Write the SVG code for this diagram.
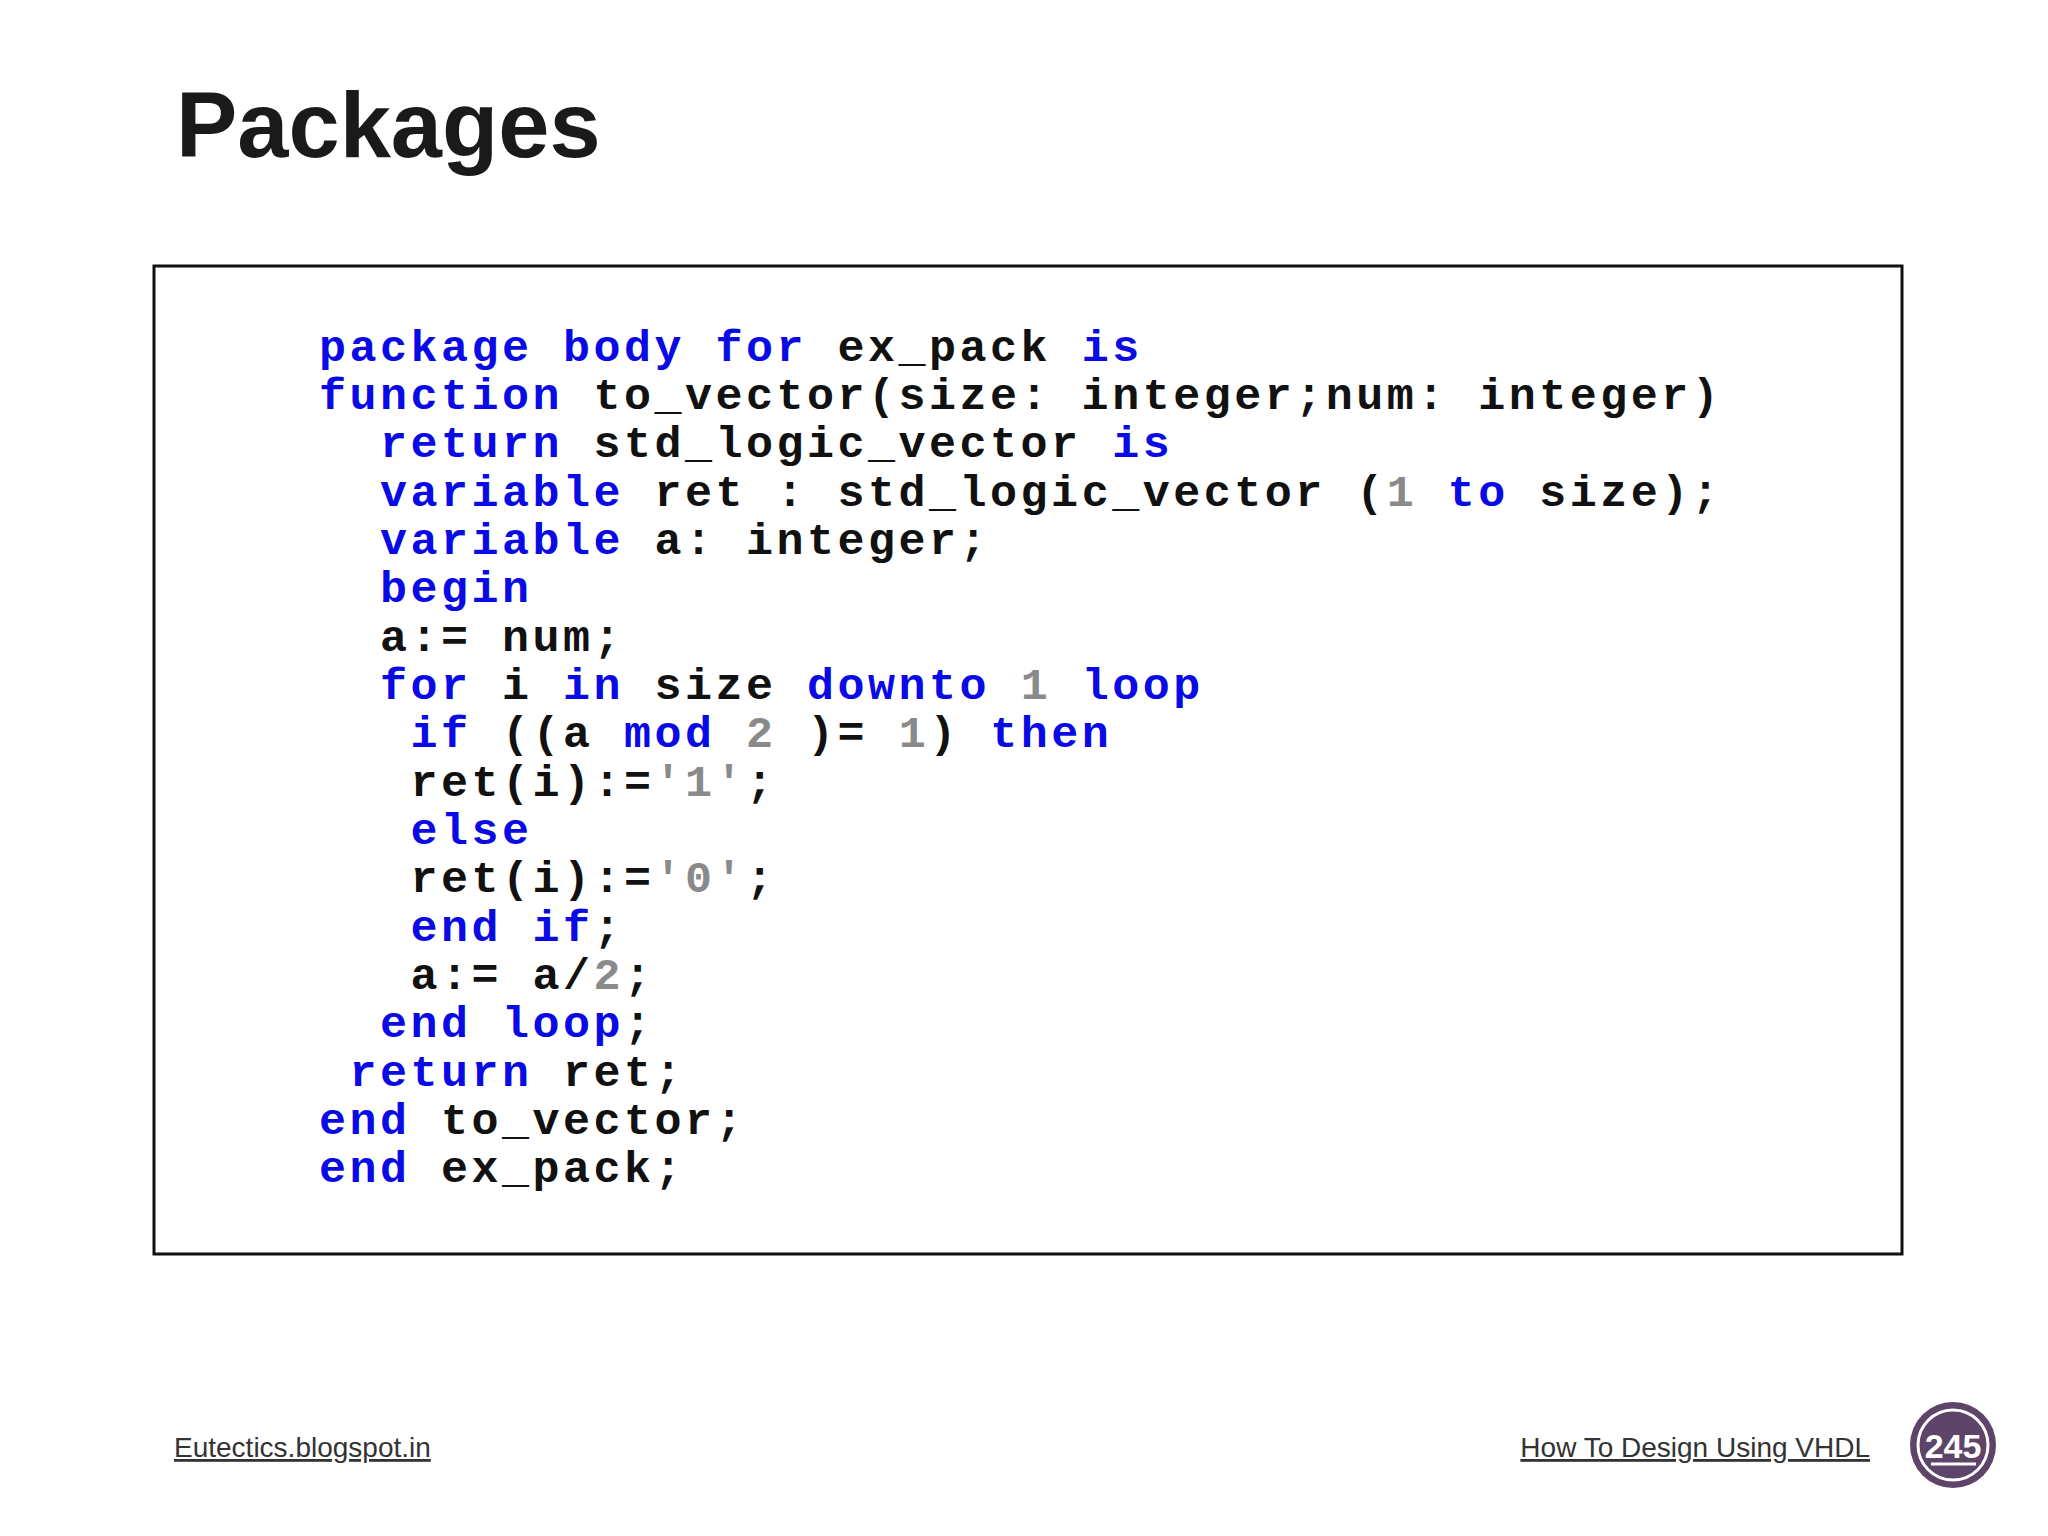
<svg xmlns="http://www.w3.org/2000/svg" width="2048" height="1536" viewBox="0 0 2048 1536">
<style>
.c{font-family:"Liberation Mono","DejaVu Sans Mono",monospace;font-weight:bold;font-size:45px;letter-spacing:3.5px;fill:#111;white-space:pre}
.k{fill:#0a0ae6}.n{fill:#8a8a8a}
.f{font-family:"Liberation Sans",Arial,sans-serif;font-size:28px;fill:#333;text-decoration:underline}
</style>
<rect width="2048" height="1536" fill="#fff"/>
<g id="title"><text x="176" y="157" font-family="Liberation Sans,Arial,sans-serif" font-weight="bold" font-size="92" fill="#1a1a1a">Packages</text></g>
<g id="codebox">
<rect x="154" y="266" width="1748" height="988" fill="#fff" stroke="#111" stroke-width="3"/>
<text class="c" x="319" y="361"><tspan class="k">package body for</tspan> ex_pack <tspan class="k">is</tspan></text>
<text class="c" x="319" y="409"><tspan class="k">function</tspan> to_vector(size: integer;num: integer)</text>
<text class="c" x="319" y="457">  <tspan class="k">return</tspan> std_logic_vector <tspan class="k">is</tspan></text>
<text class="c" x="319" y="506">  <tspan class="k">variable</tspan> ret : std_logic_vector (<tspan class="n">1</tspan> <tspan class="k">to</tspan> size);</text>
<text class="c" x="319" y="554">  <tspan class="k">variable</tspan> a: integer;</text>
<text class="c" x="319" y="602">  <tspan class="k">begin</tspan></text>
<text class="c" x="319" y="651">  a:= num;</text>
<text class="c" x="319" y="699">  <tspan class="k">for</tspan> i <tspan class="k">in</tspan> size <tspan class="k">downto</tspan> <tspan class="n">1</tspan> <tspan class="k">loop</tspan></text>
<text class="c" x="319" y="747">   <tspan class="k">if</tspan> ((a <tspan class="k">mod</tspan> <tspan class="n">2</tspan> )= <tspan class="n">1</tspan>) <tspan class="k">then</tspan></text>
<text class="c" x="319" y="796">   ret(i):=<tspan class="n">'1'</tspan>;</text>
<text class="c" x="319" y="844">   <tspan class="k">else</tspan></text>
<text class="c" x="319" y="892">   ret(i):=<tspan class="n">'0'</tspan>;</text>
<text class="c" x="319" y="941">   <tspan class="k">end if</tspan>;</text>
<text class="c" x="319" y="989">   a:= a/<tspan class="n">2</tspan>;</text>
<text class="c" x="319" y="1037">  <tspan class="k">end loop</tspan>;</text>
<text class="c" x="319" y="1086"> <tspan class="k">return</tspan> ret;</text>
<text class="c" x="319" y="1134"><tspan class="k">end</tspan> to_vector;</text>
<text class="c" x="319" y="1182"><tspan class="k">end</tspan> ex_pack;</text>
</g>
<g id="footer">
<text class="f" x="174" y="1457">Eutectics.blogspot.in</text>
<text class="f" x="1870" y="1457" text-anchor="end">How To Design Using VHDL</text>
</g>
<g id="badge">
<circle cx="1953" cy="1445" r="43" fill="#5e4468"/>
<circle cx="1953" cy="1445" r="35" fill="none" stroke="#fff" stroke-width="3"/>
<text x="1953" y="1458" text-anchor="middle" font-family="Liberation Sans,Arial,sans-serif" font-weight="bold" font-size="34" fill="#fff">245</text>
<line x1="1931" y1="1464" x2="1976" y2="1464" stroke="#fff" stroke-width="3"/>
</g>
</svg>
